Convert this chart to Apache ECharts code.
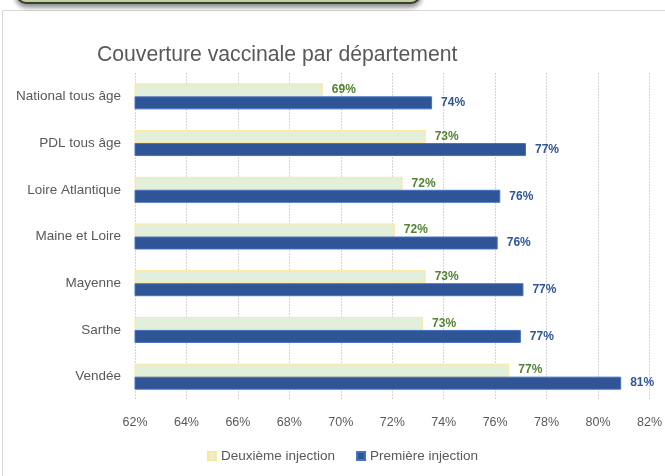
<!DOCTYPE html>
<html>
<head>
<meta charset="utf-8">
<script src="https://cdn.jsdelivr.net/npm/echarts@6/dist/echarts.min.js"></script>
<style>
  html, body { margin: 0; padding: 0; background: #fff; }
  #chart { width: 665px; height: 476px; }
</style>
</head>
<body>
<div id="chart"></div>
<script>
// départements (de haut en bas)
const categories = [
  'National tous âge',
  'PDL tous âge',
  'Loire Atlantique',
  'Maine et Loire',
  'Mayenne',
  'Sarthe',
  'Vendée',
];
// couverture en %
const deuxiemeInjection = [69.3, 73.3, 72.4, 72.1, 73.3, 73.2, 76.55];
const premiereInjection = [73.55, 77.2, 76.2, 76.1, 77.1, 77.0, 80.9];
const xMin = 62;
const xMax = 82;
const xStep = 2;

const fontFamily = '"Liberation Sans", Arial, sans-serif';
const textGray = '#595959';

const chart = echarts.init(document.getElementById('chart'), null, { renderer: 'canvas' });

const option = {
  backgroundColor: '#fff',
  animation: false,
  textStyle: { fontFamily },
  title: {
    text: 'Couverture vaccinale par département',
    left: 92,
    top: 40,
    textStyle: {
      fontFamily,
      fontSize: 21.2,
      fontWeight: 'normal',
      color: textGray,
    },
  },
  graphic: [
    {
      // cadre de la zone du graphique
      type: 'rect',
      z: -10,
      silent: true,
      shape: { x: 2.5, y: 10.5, width: 700, height: 500 },
      style: { fill: 'none', stroke: '#d9d9d9', lineWidth: 1 },
    },
    {
      // bandeau vert coupé en haut
      type: 'rect',
      z: -5,
      silent: true,
      shape: { x: 17, y: -24, width: 403, height: 27, r: 9 },
      style: {
        fill: '#c3d69b',
        stroke: '#3b3b3b',
        lineWidth: 2,
        shadowBlur: 5,
        shadowOffsetY: 3,
        shadowColor: 'rgba(0,0,0,0.45)',
      },
    },
  ],
  legend: {
    left: 202,
    top: 444,
    icon: 'rect',
    itemWidth: 8,
    itemHeight: 8,
    itemGap: 21,
    textStyle: { fontFamily, fontSize: 13.5, color: textGray },
    data: ['Deuxième injection', 'Première injection'],
  },
  grid: {
    left: 135,
    right: 15,
    top: 73,
    bottom: 76,
    containLabel: false,
  },
  xAxis: {
    type: 'value',
    min: xMin,
    max: xMax,
    interval: xStep,
    axisLine: { show: false },
    axisTick: { show: false },
    axisLabel: {
      margin: 16,
      fontSize: 12.5,
      color: textGray,
      formatter(val) {
        return val + '%';
      },
    },
    splitLine: {
      show: true,
      lineStyle: { color: '#d4d4d4', type: [2, 1], width: 1 },
    },
  },
  yAxis: {
    type: 'category',
    inverse: true,
    data: categories,
    axisLine: { show: false },
    axisTick: { show: false },
    axisLabel: {
      margin: 14,
      fontSize: 13.5,
      color: textGray,
    },
    splitLine: { show: false },
  },
  series: [
    {
      name: 'Deuxième injection',
      type: 'bar',
      data: deuxiemeInjection,
      barWidth: 13,
      barGap: '0%',
      itemStyle: {
        color: '#e2efda',
        borderColor: '#ffe699',
        borderWidth: 1,
      },
      label: {
        show: true,
        position: 'right',
        distance: 9,
        fontSize: 12,
        fontWeight: 'bold',
        color: '#548235',
        formatter(p) {
          return Math.round(p.value) + '%';
        },
      },
    },
    {
      name: 'Première injection',
      type: 'bar',
      data: premiereInjection,
      barWidth: 13,
      barGap: '0%',
      itemStyle: {
        color: '#2f5597',
        borderColor: '#4472c4',
        borderWidth: 1,
      },
      label: {
        show: true,
        position: 'right',
        distance: 9,
        fontSize: 12,
        fontWeight: 'bold',
        color: '#2f5597',
        formatter(p) {
          return Math.round(p.value) + '%';
        },
      },
    },
  ],
};

chart.setOption(option);
</script>
</body>
</html>
